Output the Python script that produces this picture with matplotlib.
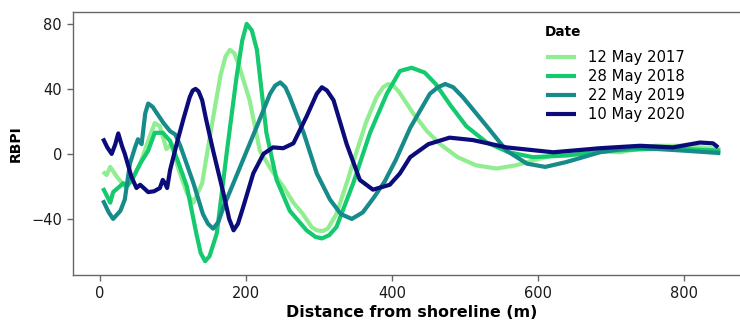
import numpy as np
import matplotlib.pyplot as plt

plt.rcParams['font.family'] = ['DejaVu Sans']

labels = ['12 May 2017', '28 May 2018', '22 May 2019', '10 May 2020']
colors = ['#90ee90', '#14c96e', '#178a8a', '#0b0b7a']

# distance from shoreline (m) / RBPI
d2017 = [4, 9, 14, 23, 34, 43, 55, 66, 75, 82, 91, 98, 108, 119, 128, 140, 151,
         165, 172, 178, 184, 190, 205, 219, 235, 251, 265, 278, 290, 297, 305,
         312, 324, 338, 352, 365, 379, 388, 395, 402, 410, 429, 448, 466, 490,
         515, 543, 570, 593, 620, 662, 712, 760, 800, 850]
v2017 = [-11, -13, -8, -14, -20, -17, -6, 8, 19, 17, 3, 6, -10, -24, -30, -18, 12,
         48, 60, 64, 62, 55, 33, 2, -10, -20, -30, -37, -45, -47, -47.5,
         -46, -37, -18, 2, 20, 35, 41, 43, 42, 38, 25, 14, 6, -2,
         -7, -9, -7, -4, -1, 2, 1, 5, 5, 3]

d2018 = [4, 14, 18, 27, 32, 37, 46, 55, 66, 75, 86, 96, 108, 119, 132, 138, 144,
         150, 160, 174, 187, 195, 201, 208, 215, 228, 242, 260, 283, 295, 304,
         314, 324, 347, 370, 393, 411, 427, 445, 460, 480, 502, 530, 560, 593,
         639, 700, 750, 800, 850]
v2018 = [-21, -30, -23.5, -20, -18, -20, -14, -6, 2, 13, 13, 8, -6, -20, -49, -61, -66,
         -63, -49, 2, 47, 70, 80, 76, 64, 13, -16, -35, -47, -51, -52,
         -50, -45, -18, 13, 37, 51, 53, 50, 43, 30, 17, 7, 1, -2,
         -1, 2, 3, 3, 2]

d2019 = [4, 12, 18, 28, 34, 41, 48, 52, 57, 62, 66, 72, 78, 87, 96, 103, 110,
         128, 141, 148, 155, 162, 169, 192, 215, 233, 240, 247, 254, 260, 279,
         297, 315, 330, 345, 360, 375, 390, 405, 425, 452, 463, 473, 484, 497,
         530, 557, 585, 610, 639, 685, 730, 800, 850]
v2019 = [-28.5, -36, -40, -35, -28, -6, 4, 9, 6, 25, 31, 29, 25, 19, 14, 12, 5,
         -18, -37, -43, -46, -42, -33, -8, 17, 37, 42, 44, 41, 35, 13,
         -12, -28, -37, -40, -36, -27, -17, -4, 16, 37, 41, 43, 41, 35,
         17, 2, -6, -8, -5, 1, 4, 2, 0.5]

d2020 = [4, 10, 16, 21, 25, 30, 34, 43, 50, 55, 60, 66, 74, 82, 86, 89, 92, 96,
         105, 114, 123, 127, 131, 135, 140, 145, 155, 169, 177, 183, 189, 196,
         210, 224, 237, 251, 265, 283, 297, 304, 311, 320, 338, 356, 374, 397,
         411, 425, 450, 479, 511, 557, 621, 685, 740, 785, 822, 840, 847]
v2020 = [9.5, 4, 0, 6, 12.6, 5, 0, -14, -21, -19, -21, -23.5, -23, -21, -16, -18, -21, -10,
         6, 21, 35, 39, 40, 38.5, 33, 22, 2, -24, -40, -47, -43, -33,
         -12, 0, 4, 3.5, 6.5, 23, 37, 41, 39, 33, 6, -16, -22, -19,
         -12, -2, 6, 10, 8.5, 4, 1, 3.5, 5, 4, 7, 6.5, 4]

series = [(d2017, v2017), (d2018, v2018), (d2019, v2019), (d2020, v2020)]

fig = plt.figure(figsize=(7.4, 3.24), dpi=100)
ax = fig.add_axes([73 / 740, 49 / 324, 678 / 740, 263 / 324])

for (d, v), c, lab in zip(series, colors, labels):
    ax.plot(d, v, color=c, lw=3, label=lab, solid_capstyle='butt',
            solid_joinstyle='round')

ax.set_xlim(-37, 892)
ax.set_ylim(-74.5, 87.3)
ax.set_xticks([0, 200, 400, 600, 800])
ax.set_yticks([-40, 0, 40, 80])

for s in ax.spines.values():
    s.set_color('#666666')
    s.set_linewidth(1)
ax.tick_params(colors='#666666', length=4, width=1, labelsize=10.5,
               labelcolor='#1a1a1a', pad=4)

ax.set_xlabel('Distance from shoreline (m)', fontsize=11.4, fontweight='bold',
              labelpad=3)
ax.set_ylabel('RBPI', fontsize=10, fontweight='bold', labelpad=6)

# legend title placed on its own, entries below
fig.text(545 / 740, 1 - 32 / 324, 'Date', fontsize=9.8, fontweight='bold',
         ha='left', va='center')
leg = ax.legend(loc='upper left', frameon=False,
                bbox_to_anchor=(546 / 740, 1 - 50 / 324),
                bbox_transform=fig.transFigure,
                fontsize=10.6, handlelength=2.05, handletextpad=0.8,
                labelspacing=0.27, borderpad=0, borderaxespad=0)

fig.savefig('out.png', dpi=100)
